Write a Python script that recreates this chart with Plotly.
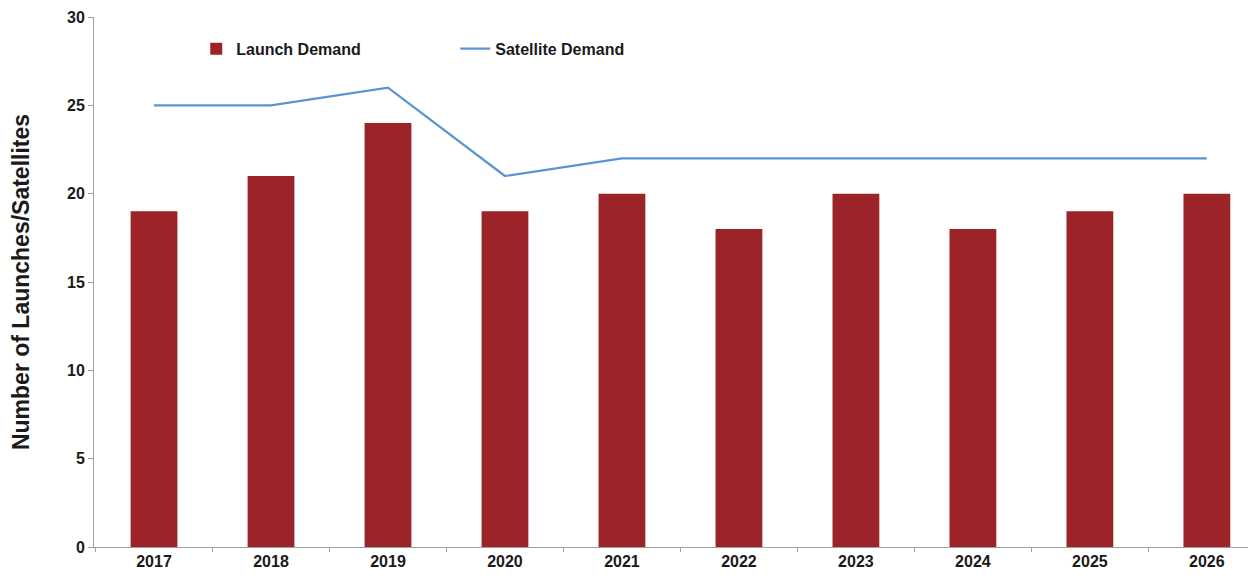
import plotly.graph_objects as go

years = ["2017", "2018", "2019", "2020", "2021", "2022", "2023", "2024", "2025", "2026"]
launch_demand = [19, 21, 24, 19, 20, 18, 20, 18, 19, 20]
satellite_demand = [25, 25, 26, 21, 22, 22, 22, 22, 22, 22]

fig = go.Figure()
fig.add_trace(go.Bar(
    x=years, y=launch_demand, name="<b>Launch Demand</b>",
    marker=dict(color="#9C2428", line=dict(width=0)),
))
fig.add_trace(go.Scatter(
    x=years, y=satellite_demand, name="<b>Satellite Demand</b>", mode="lines",
    line=dict(color="#5B95CF", width=2.2),
))

font_family = "Liberation Sans, Arial, sans-serif"
fig.update_layout(
    width=1248, height=568,
    margin=dict(l=86, r=0, t=9, b=29),
    paper_bgcolor="white", plot_bgcolor="white",
    bargap=0.6,
    font=dict(family=font_family, color="#1a1a1a", size=16),
    showlegend=True,
    legend=dict(
        orientation="h", x=0.088, y=0.94, xanchor="left", yanchor="middle",
        font=dict(size=16, family=font_family, color="#1a1a1a"),
        itemwidth=30, tracegroupgap=0, bgcolor="rgba(0,0,0,0)",
        entrywidth=214, entrywidthmode="pixels",
    ),
    xaxis=dict(
        type="category", range=[-0.513, 9.42],
        showgrid=False, showline=True, linecolor="#a0a0a0", linewidth=1,
        ticks="outside", ticklen=4, tickcolor="#a0a0a0", tickson="boundaries",
        tickfont=dict(size=16, family=font_family, color="#1a1a1a"),
        tickprefix="<b>", ticksuffix="</b>",
    ),
    yaxis=dict(
        range=[0, 30], dtick=5, showgrid=False, zeroline=False,
        showline=True, linecolor="#a0a0a0", linewidth=1,
        ticks="outside", ticklen=5, tickcolor="#a0a0a0",
        tickfont=dict(size=16, family=font_family, color="#1a1a1a"),
        tickprefix="<b>", ticksuffix="</b>",
        title=dict(text="<b>Number of Launches/Satellites</b>",
                   font=dict(size=23, family=font_family, color="#1a1a1a"), standoff=40),
    ),
)

fig.write_html("out.html")
